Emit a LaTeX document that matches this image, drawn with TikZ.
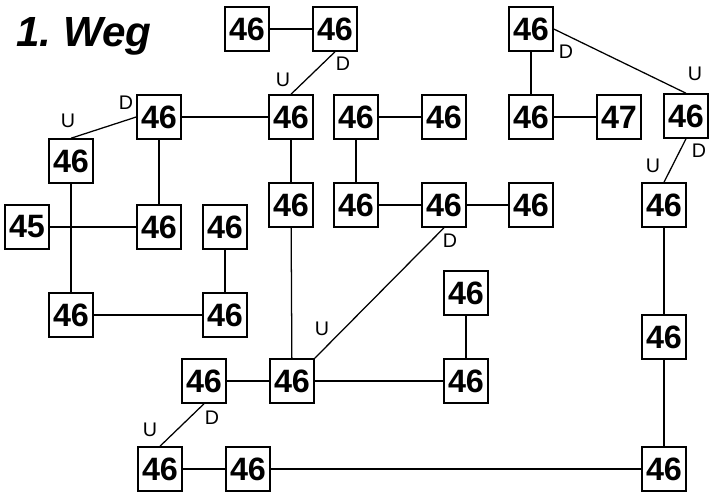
\documentclass[tikz,border=0pt]{standalone}
\usepackage{fontspec}
\setmainfont{Liberation Sans}
\begin{document}
\begin{tikzpicture}[
        x=0.025cm, y=-0.025cm,
        zahl/.style={draw, line width=1.1pt, minimum size=1.1cm, inner sep=0pt, font=\fontsize{23}{23}\selectfont\bfseries},
        marke/.style={inner sep=0pt, font=\fontsize{14}{14}\selectfont},
        verb/.style={line width=0.9pt}
    ]
        \useasboundingbox (0,0) rectangle (713,495);
        \node[anchor=base west, inner sep=0pt, font=\fontsize{30}{30}\selectfont\bfseries\itshape] (titel) at (16,46) {1.~Weg};

        % Kaestchen
        \node[zahl] (a1) at (247,29) {46};
        \node[zahl] (a2) at (335,29) {46};
        \node[zahl] (a3) at (531,29) {46};
        \node[zahl] (b1) at (159,117) {46};
        \node[zahl] (b2) at (291,117) {46};
        \node[zahl] (b3) at (356,117) {46};
        \node[zahl] (b4) at (444,117) {46};
        \node[zahl] (b5) at (531,117) {46};
        \node[zahl] (b6) at (619,117) {47};
        \node[zahl] (b7) at (686,116) {46};
        \node[zahl] (c1) at (71,161) {46};
        \node[zahl] (d1) at (291,205) {46};
        \node[zahl] (d2) at (356,205) {46};
        \node[zahl] (d3) at (444,205) {46};
        \node[zahl] (d4) at (531,205) {46};
        \node[zahl] (d5) at (664,205) {46};
        \node[zahl] (e1) at (27,227) {45};
        \node[zahl] (e2) at (159,227) {46};
        \node[zahl] (e3) at (225,227) {46};
        \node[zahl] (f1) at (466,293) {46};
        \node[zahl] (g1) at (71,315) {46};
        \node[zahl] (g2) at (225,315) {46};
        \node[zahl] (h1) at (664,337) {46};
        \node[zahl] (i1) at (204,381) {46};
        \node[zahl] (i2) at (292,381) {46};
        \node[zahl] (i3) at (466,381) {46};
        \node[zahl] (j1) at (160,469) {46};
        \node[zahl] (j2) at (248,469) {46};
        \node[zahl] (j3) at (664,469) {46};

        % U/D Marken
        \node[marke] (dA) at (343,64) {D};
        \node[marke] (uA) at (283,80) {U};
        \node[marke] (dB) at (126,103) {D};
        \node[marke] (uB) at (68,121) {U};
        \node[marke] (dC) at (566,52) {D};
        \node[marke] (uC) at (695,74) {U};
        \node[marke] (dD) at (699,151) {D};
        \node[marke] (uD) at (653,166) {U};
        \node[marke] (dE) at (450,241) {D};
        \node[marke] (uE) at (322,329) {U};
        \node[marke] (dF) at (212,418) {D};
        \node[marke] (uF) at (150,430) {U};

        % Verbindungen
        \draw[verb] (a1) -- (a2);
        \draw[verb] (a2.south) -- (b2.north);
        \draw[verb] (b1.west) -- (c1.north);
        \draw[verb] (b1) -- (b2);
        \draw[verb] (b1) -- (e2);
        \draw[verb] (c1) -- (g1);
        \draw[verb] (e1) -- (e2);
        \draw[verb] (e3) -- (g2);
        \draw[verb] (g1) -- (g2);
        \draw[verb] (b2) -- (d1);
        \draw[verb] (d1) -- (i2);
        \draw[verb] (b3) -- (b4);
        \draw[verb] (b3) -- (d2);
        \draw[verb] (d2) -- (d3);
        \draw[verb] (d3) -- (d4);
        \draw[verb] (d3.south) -- (i2.north east);
        \draw[verb] (a3) -- (b5);
        \draw[verb] (b5) -- (b6);
        \draw[verb] (a3.east) -- (b7.north);
        \draw[verb] (b7.south) -- (d5.north);
        \draw[verb] (d5) -- (h1);
        \draw[verb] (h1) -- (j3);
        \draw[verb] (f1) -- (i3);
        \draw[verb] (i1) -- (i2);
        \draw[verb] (i2) -- (i3);
        \draw[verb] (i1.south) -- (j1.north);
        \draw[verb] (j1) -- (j2);
        \draw[verb] (j2) -- (j3);
    \end{tikzpicture}
\end{document}
